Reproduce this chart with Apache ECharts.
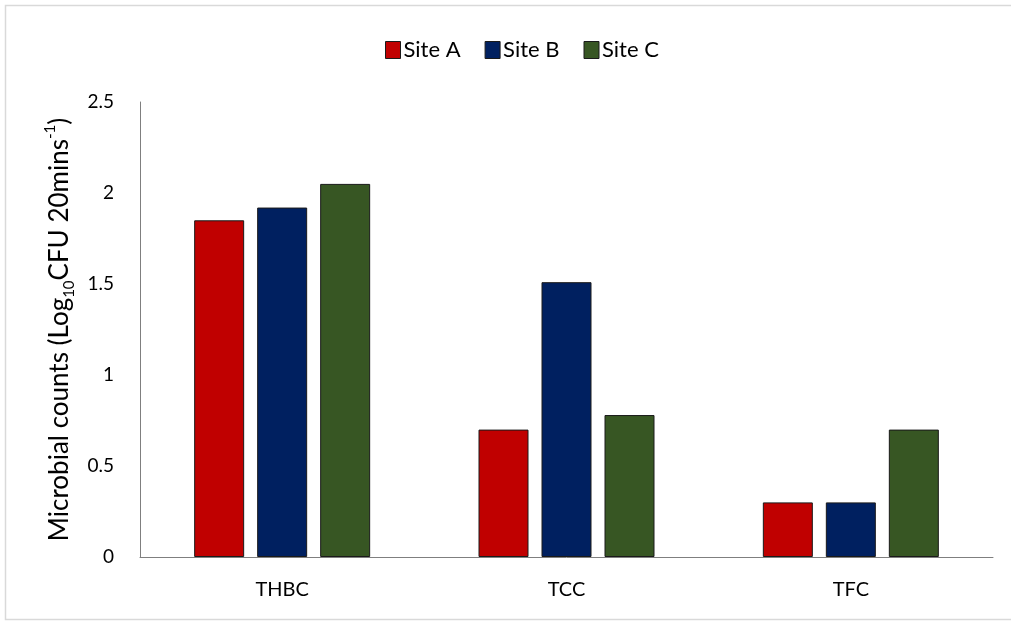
<!DOCTYPE html>
<html>
<head>
<meta charset="utf-8">
<script src="https://cdn.jsdelivr.net/npm/echarts@6/dist/echarts.min.js"></script>
<style>
  html, body { margin: 0; padding: 0; background: #fff; }
  #chart { width: 1011px; height: 622px; }
</style>
</head>
<body>
<div id="chart"></div>
<script>
// Microbial counts by indicator group and sampling site
const categories = ['THBC', 'TCC', 'TFC'];
const siteNames = ['Site A', 'Site B', 'Site C'];
const siteA = [1.85, 0.70, 0.30];
const siteB = [1.92, 1.51, 0.30];
const siteC = [2.05, 0.78, 0.70];
const yTicks = { min: 0, max: 2.5, step: 0.5 };
const siteColors = ['#C00000', '#002060', '#375623'];

const FONT = 'Lato, "Open Sans", sans-serif';
const chart = echarts.init(document.getElementById('chart'), null, { renderer: 'canvas' });

const seriesData = [siteA, siteB, siteC];
const series = seriesData.map((vals, i) => ({
  name: siteNames[i],
  type: 'bar',
  data: vals,
  barWidth: 50,
  barGap: '26%',
  itemStyle: { color: siteColors[i], borderColor: '#1a1a1a', borderWidth: 1 }
}));

chart.setOption({
  animation: false,
  graphic: [{
    type: 'rect',
    shape: { x: 5.5, y: 5.5, width: 1010, height: 614 },
    style: { fill: 'none', stroke: '#d9d9d9', lineWidth: 1.5 },
    silent: true,
    z: -1
  }],
  legend: {
    data: siteNames.map((n, i) => ({
      name: n,
      itemStyle: { color: siteColors[i], borderColor: '#1a1a1a', borderWidth: 1 }
    })),
    top: 34,
    left: 380,
    icon: 'rect',
    itemWidth: 15,
    itemHeight: 17,
    itemGap: 24,
    textStyle: { fontFamily: FONT, fontSize: 22, color: '#000', padding: [0, 0, 0, -2] }
  },
  grid: { left: 140, right: 18, top: 102, bottom: 65 },
  xAxis: {
    type: 'category',
    data: categories,
    axisLine: { lineStyle: { color: '#7f7f7f', width: 1 } },
    axisTick: { show: false },
    axisLabel: { fontFamily: FONT, fontSize: 20, color: '#000', margin: 23 }
  },
  yAxis: {
    type: 'value',
    min: yTicks.min,
    max: yTicks.max,
    interval: yTicks.step,
    name: '{m|Microbial counts (Log}{sub|10}{m|CFU 20mins}{sup|-1}{m|)}',
    nameLocation: 'middle',
    nameGap: 63,
    nameRotate: 90,
    nameTextStyle: {
      rich: {
        m: { fontFamily: FONT, fontSize: 26, color: '#000', lineHeight: 30 },
        sub: { fontFamily: FONT, fontSize: 15, color: '#000', lineHeight: 30, verticalAlign: 'bottom', padding: [0, 0, -2, 0] },
        sup: { fontFamily: FONT, fontSize: 15, color: '#000', lineHeight: 30, verticalAlign: 'top', padding: [-2, 0, 0, 0] }
      }
    },
    axisLine: { show: true, lineStyle: { color: '#7f7f7f', width: 1 } },
    axisTick: { show: false },
    splitLine: { show: false },
    axisLabel: { fontFamily: FONT, fontSize: 19, color: '#000', margin: 26 }
  },
  series: series
});
</script>
</body>
</html>
